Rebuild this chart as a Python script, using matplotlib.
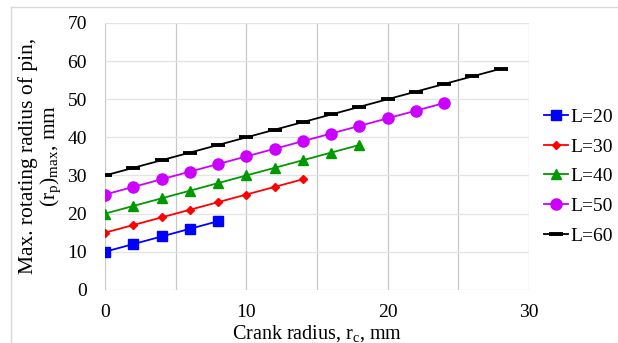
import matplotlib.pyplot as plt
from matplotlib.ticker import MultipleLocator
from matplotlib.lines import Line2D

plt.rcParams['font.family'] = ['Liberation Serif', 'DejaVu Serif']
plt.rcParams['mathtext.fontset'] = 'custom'
plt.rcParams['mathtext.rm'] = 'Liberation Serif'
plt.rcParams['mathtext.it'] = 'Liberation Serif'

# данные
x_20 = [0, 2, 4, 6, 8]
y_20 = [10, 12, 14, 16, 18]
x_30 = [0, 2, 4, 6, 8, 10, 12, 14]
y_30 = [15, 17, 19, 21, 23, 25, 27, 29]
x_40 = [0, 2, 4, 6, 8, 10, 12, 14, 16, 18]
y_40 = [20, 22, 24, 26, 28, 30, 32, 34, 36, 38]
x_50 = [0, 2, 4, 6, 8, 10, 12, 14, 16, 18, 20, 22, 24]
y_50 = [25, 27, 29, 31, 33, 35, 37, 39, 41, 43, 45, 47, 49]
x_60 = [0, 2, 4, 6, 8, 10, 12, 14, 16, 18, 20, 22, 24, 26, 28]
y_60 = [30, 32, 34, 36, 38, 40, 42, 44, 46, 48, 50, 52, 54, 56, 58]
labels = ['L=20', 'L=30', 'L=40', 'L=50', 'L=60']

fig = plt.figure(figsize=(6.18, 3.43), dpi=100)
ax = fig.add_axes([0.170, 0.155, 0.686, 0.778])

ax.plot(x_20, y_20, color='#0000FF', marker='s', markersize=7.5, lw=1.3, label=labels[0])
ax.plot(x_30, y_30, color='#FF0000', marker='D', markersize=4.5, lw=1.3, label=labels[1])
ax.plot(x_40, y_40, color='#009900', marker='^', markersize=7.5, lw=1.3, label=labels[2])
ax.plot(x_50, y_50, color='#CC00FF', marker='o', markersize=8, lw=1.3, label=labels[3])
ax.plot(x_60, y_60, color='#000000', marker='_', markersize=10, mew=2.8, lw=1.3, label=labels[4])

ax.set_xlim(0, 30)
ax.set_ylim(0, 70)
ax.xaxis.set_major_locator(MultipleLocator(10))
ax.xaxis.set_minor_locator(MultipleLocator(5))
ax.yaxis.set_major_locator(MultipleLocator(10))
ax.grid(True, which='both', axis='x', color='#C8C8C8', lw=0.9)
ax.grid(True, axis='y', color='#E3E3E3', lw=0.9)
ax.set_axisbelow(True)
for s in ax.spines.values():
    s.set_visible(False)
ax.tick_params(which='both', length=0, labelsize=14)
ax.tick_params(axis='x', pad=10)
ax.tick_params(axis='y', pad=13)

ax.set_xlabel('Crank radius, r$_c$, mm', fontsize=14.5, labelpad=2)
ax.set_ylabel('Max. rotating radius of pin,\n(r$_p$)$_{max}$, mm', fontsize=15.5,
              linespacing=1.05, labelpad=3)

ax.legend(loc='center left', bbox_to_anchor=(1.035, 0.425), frameon=False,
          fontsize=14, handlelength=1.25, handletextpad=0.1, labelspacing=0.62,
          borderaxespad=0, borderpad=0)

# рамка как в Excel
fig.add_artist(Line2D([0.018, 1.0], [0.98, 0.98], color='#D9D9D9', lw=1))
fig.add_artist(Line2D([0.018, 0.018], [0.0, 0.98], color='#D9D9D9', lw=1))

fig.savefig('out.png', dpi=100)
